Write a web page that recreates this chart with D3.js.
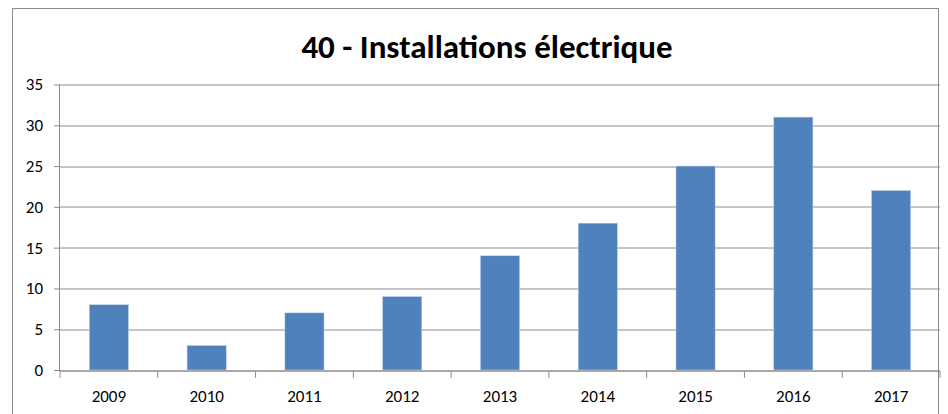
<!DOCTYPE html>
<html>
<head>
<meta charset="utf-8">
<script src="https://cdn.jsdelivr.net/npm/d3@7"></script>
<style>
    body { margin: 0; background: #fff; }
    svg { display: block; font-family: Calibri, Carlito, Lato, "Open Sans", sans-serif; }
</style>
</head>
<body>
<svg id="chart"></svg>
<script>
// data
const years = ['2009', '2010', '2011', '2012', '2013', '2014', '2015', '2016', '2017'];
const counts = [8, 3, 7, 9, 14, 18, 25, 31, 22];
const yTicks = [0, 5, 10, 15, 20, 25, 30, 35];
const title = '40 - Installations électrique';

const width = 948;
const height = 414;
const margin = { top: 84.5, right: 8, bottom: 44, left: 60 };
const labelSize = '17px';

const boundedWidth = width - margin.left - margin.right;
const boundedHeight = height - margin.top - margin.bottom;

const svg = d3.select('#chart')
    .attr('width', width)
    .attr('height', height);

// outer chart frame
svg.append('rect')
    .attr('x', 12.5)
    .attr('y', 8.5)
    .attr('width', 926)
    .attr('height', 420)
    .attr('fill', 'none')
    .attr('stroke', '#8c8c8c')
    .attr('stroke-width', 1);

// title
svg.append('text')
    .attr('x', 487)
    .attr('y', 58)
    .attr('text-anchor', 'middle')
    .style('font-size', '33px')
    .style('font-weight', 'bold')
    .text(title);

const bounds = svg.append('g')
    .attr('transform', `translate(${margin.left}, ${margin.top})`);

// scales
const xScale = d3.scaleBand()
    .domain(years)
    .range([0, boundedWidth])
    .paddingInner(0.6)
    .paddingOuter(0.3);

const yScale = d3.scaleLinear()
    .domain([0, 35])
    .range([boundedHeight, 0]);

// gridlines
bounds.append('g')
    .attr('class', 'grid')
    .selectAll('line')
    .data(yTicks)
    .join('line')
    .attr('x1', 0)
    .attr('x2', boundedWidth)
    .attr('y1', d => Math.round(yScale(d)) + 0.5)
    .attr('y2', d => Math.round(yScale(d)) + 0.5)
    .attr('stroke', '#8c8c8c');

// y axis
const yAxis = d3.axisLeft(yScale)
    .tickValues(yTicks)
    .tickSize(6)
    .tickPadding(11);

const yAxisG = bounds.append('g').call(yAxis)
    .attr('font-family', null)
    .attr('font-size', null);
yAxisG.select('.domain').attr('stroke', '#8c8c8c').attr('d', `M-0.5,0V${boundedHeight}`);
yAxisG.selectAll('.tick line').attr('stroke', '#8c8c8c');
yAxisG.selectAll('.tick text').style('font-size', labelSize).attr('fill', '#000');

// bars
bounds.append('g')
    .selectAll('rect')
    .data(counts)
    .join('rect')
    .attr('x', (d, i) => xScale(years[i]))
    .attr('y', d => yScale(d))
    .attr('width', xScale.bandwidth())
    .attr('height', d => boundedHeight - yScale(d))
    .attr('fill', '#4f81bd')
    .attr('stroke', '#bcd0e8')
    .attr('stroke-width', 0.5);

// x axis with ticks at category boundaries
const step = boundedWidth / years.length;
const xAxisG = bounds.append('g')
    .attr('transform', `translate(0, ${Math.round(boundedHeight) + 0.5})`);

xAxisG.append('line')
    .attr('x1', 0)
    .attr('x2', boundedWidth)
    .attr('stroke', '#8c8c8c');

xAxisG.selectAll('.sep')
    .data(d3.range(years.length + 1))
    .join('line')
    .attr('class', 'sep')
    .attr('x1', d => d * step)
    .attr('x2', d => d * step)
    .attr('y1', 0)
    .attr('y2', 7)
    .attr('stroke', '#8c8c8c');

xAxisG.selectAll('text')
    .data(years)
    .join('text')
    .attr('x', d => xScale(d) + xScale.bandwidth() / 2)
    .attr('y', 31)
    .attr('text-anchor', 'middle')
    .style('font-size', labelSize)
    .text(d => d);
</script>
</body>
</html>
